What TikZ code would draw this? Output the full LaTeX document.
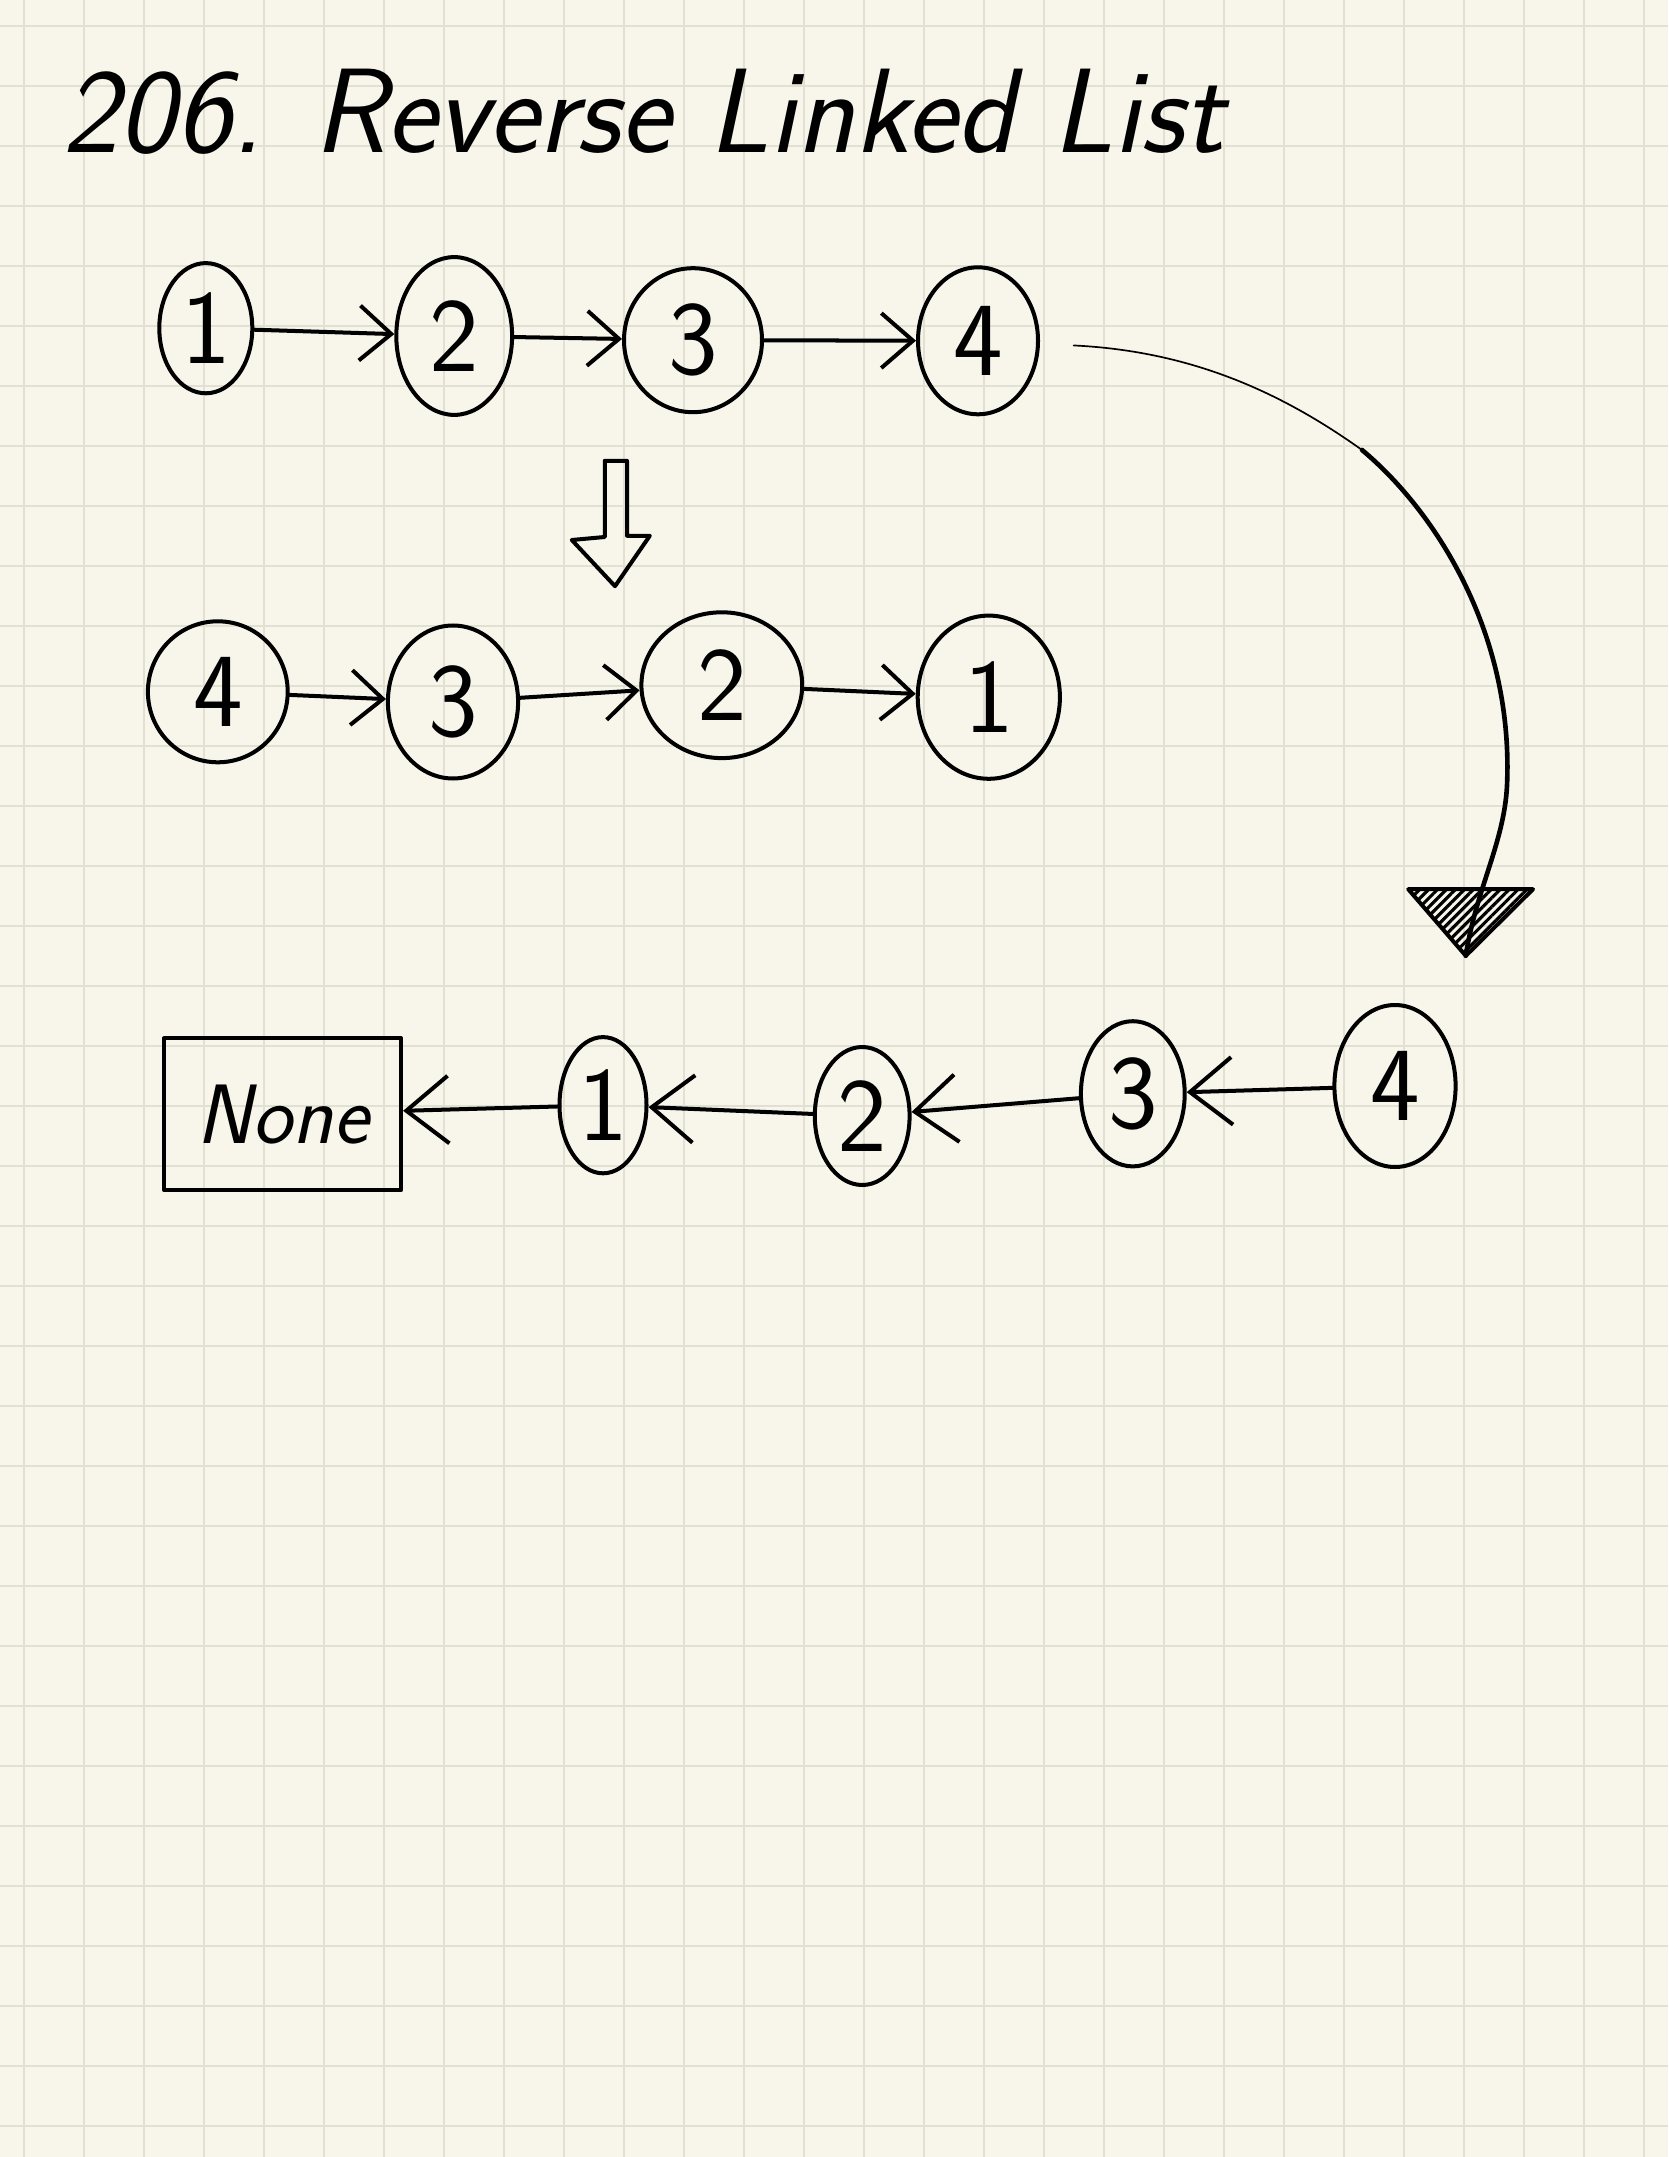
\documentclass[tikz,border=0pt]{standalone}
\usepackage{fontspec}
\renewcommand{\familydefault}{\sfdefault}
\usetikzlibrary{arrows.meta,patterns.meta,shapes.geometric}
\definecolor{paper}{HTML}{F8F6EA}
\definecolor{gridln}{HTML}{E2E0D3}

\begin{document}
\begin{tikzpicture}[line cap=round,line join=round,
  ov/.style={draw,shape=ellipse,line width=1.9pt,inner sep=0pt,font=\fontsize{50}{50}\selectfont},
  link/.style={line width=1.9pt,-{Straight Barb[length=15pt,width=26pt]}},
  back/.style={line width=1.9pt,-{Straight Barb[length=20pt,width=32pt]}}]
\useasboundingbox (0,0) rectangle (27.8,-35.95);
\fill[paper] (0,0) rectangle (27.8,-35.95);
\foreach \i in {0,...,27} \draw[gridln,line width=1pt,line cap=butt] (0.4+\i,0) -- (0.4+\i,-35.95);
\foreach \j in {0,...,35} \draw[gridln,line width=1pt,line cap=butt] (0,-0.4333-\j) -- (27.8,-0.4333-\j);
\node[anchor=base west,inner sep=0pt,font=\itshape\fontsize{57}{60}\selectfont] (title) at (1.03,-2.55) {206. Reverse Linked List};
\foreach \n/\x/\y/\w/\h/\t in {t1/3.43/-5.47/1.55/2.17/1,t2/7.57/-5.6/1.93/2.63/2,t3/11.55/-5.67/2.3/2.4/3,t4/16.3/-5.68/2.0/2.45/4,
  r4/3.63/-11.53/2.33/2.35/4,r3/7.55/-11.7/2.17/2.55/3,r2/12.03/-11.42/2.68/2.43/2,r1/16.48/-11.62/2.37/2.72/1,
  b1/10.05/-18.42/1.45/2.27/1,b2/14.37/-18.6/1.58/2.3/2,b3/18.88/-18.23/1.73/2.42/3,b4/23.25/-18.1/2.02/2.7/4}
  \node[ov,minimum width=\w cm,minimum height=\h cm] (\n) at (\x,\y) {\t};
\node[draw,line width=1.9pt,minimum width=3.95cm,minimum height=2.53cm,font=\itshape\fontsize{40}{40}\selectfont] (none) at (4.71,-18.57) {None};
\draw[link] (t1) -- (t2);
\draw[link] (t2) -- (t3);
\draw[link] (t3) -- (t4);
\draw[link] (r4) -- (r3);
\draw[link] (r3) -- (r2);
\draw[link] (r2) -- (r1);
\draw[line width=1.9pt] (10.08,-7.68) -- (10.45,-7.68) -- (10.45,-8.93) -- (10.83,-8.93) -- (10.25,-9.77) -- (9.53,-9.0) -- (10.08,-8.95) -- cycle;
\coordinate (bend) at (22.7,-7.5);
\coordinate (tip) at (24.43,-15.93);
\draw[line width=0.8pt,shorten <=16pt] (t4) .. controls (19.8,-5.85) and (21.3,-6.5) .. (bend);
\draw[line width=2.2pt] (bend) .. controls (23.9,-8.5) and (25.2,-10.5) .. (25.12,-13.0) .. controls (25.1,-14.0) and (24.6,-14.8) .. (tip);
\draw[line width=1.9pt,pattern={Lines[angle=45,distance=3pt,line width=1.5pt]}] (23.47,-14.82) -- (25.55,-14.82) -- (tip) -- cycle;
\draw[back] (b4) -- (b3);
\draw[back] (b3) -- (b2);
\draw[back] (b2) -- (b1);
\draw[back] (b1) -- (none);
\end{tikzpicture}
\end{document}
